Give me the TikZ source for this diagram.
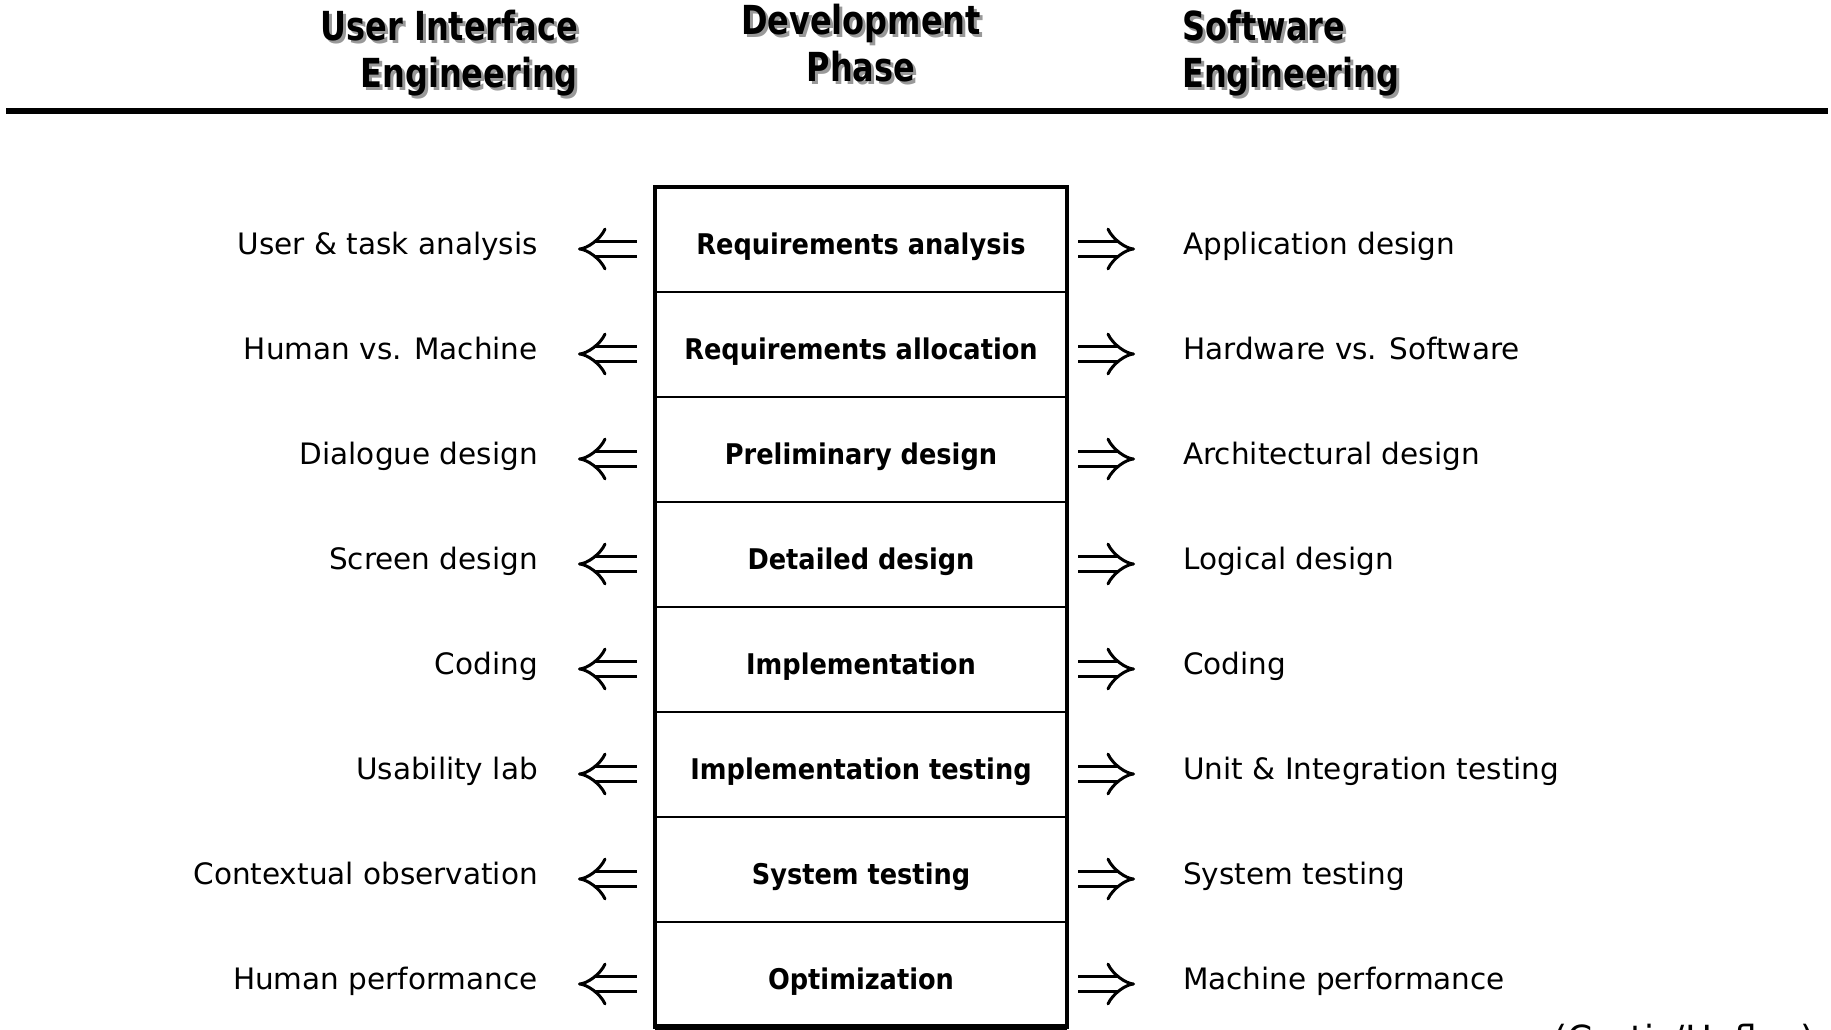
\documentclass[tikz,border=0pt]{standalone}
\usepackage{fontspec}
\setmainfont{DejaVu Sans}
\newfontfamily\headfont[FakeStretch=0.8]{DejaVu Sans}
\newfontfamily\phasefont[FakeStretch=0.9]{DejaVu Sans}
\usepackage{tikz}
\usetikzlibrary{arrows.meta,positioning}

% grey drop shadow behind a line of the headings
\newcommand{\shd}[1]{\makebox[0pt][l]{\kern3pt\raisebox{-3pt}{\textcolor{black!40}{#1}}}#1}

\begin{document}
\begin{tikzpicture}[x=1pt,y=-1pt,
    phase/.style={draw,line width=2pt,minimum width=412pt,minimum height=105pt,inner sep=0pt,outer sep=0pt,
      text height=30pt,text depth=1pt,font=\phasefont\bfseries\fontsize{28.5}{32}\selectfont},
    side/.style={inner sep=0pt,text height=30pt,text depth=1pt,font=\fontsize{29.5}{34}\selectfont},
    head/.style={inner sep=0pt,align=#1,font=\headfont\bfseries\fontsize{40}{47}\selectfont},
    toui/.style={double,double distance=12pt,line width=3pt,-{Implies[scale=0.85]},shorten <=18pt,shorten >=40pt},
    tose/.style={double,double distance=12pt,line width=3pt,-{Implies[scale=0.85]},shorten <=11pt,shorten >=48pt}]
      \useasboundingbox (0,0) rectangle (1831,1030);
      \clip (0,0) rectangle (1831,1030);

      % headings
      \node [head=right,anchor=north east] (hui) at (578,10) {\shd{User Interface}\\\shd{Engineering}};
      \node [head=center,anchor=north] (hdev) at (861,4) {\shd{Development}\\\shd{Phase}};
      \node [head=left,anchor=north west] (hse) at (1182,10) {\shd{Software}\\\shd{Engineering}};
      \draw [line width=6pt] (6,111) to (1828,111);

      % development phases
      \node [phase] (r1) at (861,239.5) {Requirements analysis};
      \node [phase,below=0pt of r1] (r2) {Requirements allocation};
      \node [phase,below=0pt of r2] (r3) {Preliminary design};
      \node [phase,below=0pt of r3] (r4) {Detailed design};
      \node [phase,below=0pt of r4] (r5) {Implementation};
      \node [phase,below=0pt of r5] (r6) {Implementation testing};
      \node [phase,below=0pt of r6] (r7) {System testing};
      \node [phase,below=0pt of r7] (r8) {Optimization};
      \draw [line width=4pt] (r1.north west) rectangle (r8.south east);
      \draw [line width=6pt] (r8.south west) to (r8.south east);

      % user interface engineering
      \node [side,left=117pt of r1,anchor=east] (ui1) {User \& task analysis};
      \node [side,left=117pt of r2,anchor=east] (ui2) {Human vs. Machine};
      \node [side,left=117pt of r3,anchor=east] (ui3) {Dialogue design};
      \node [side,left=117pt of r4,anchor=east] (ui4) {Screen design};
      \node [side,left=117pt of r5,anchor=east] (ui5) {Coding};
      \node [side,left=117pt of r6,anchor=east] (ui6) {Usability lab};
      \node [side,left=117pt of r7,anchor=east] (ui7) {Contextual observation};
      \node [side,left=117pt of r8,anchor=east] (ui8) {Human performance};

      % software engineering
      \node [side,right=116pt of r1,anchor=west] (se1) {Application design};
      \node [side,right=116pt of r2,anchor=west] (se2) {Hardware vs. Software};
      \node [side,right=116pt of r3,anchor=west] (se3) {Architectural design};
      \node [side,right=116pt of r4,anchor=west] (se4) {Logical design};
      \node [side,right=116pt of r5,anchor=west] (se5) {Coding};
      \node [side,right=116pt of r6,anchor=west] (se6) {Unit \& Integration testing};
      \node [side,right=116pt of r7,anchor=west] (se7) {System testing};
      \node [side,right=116pt of r8,anchor=west] (se8) {Machine performance};

      % arrows
      \foreach \i in {1,...,8} {
        \draw [toui] ([yshift=-9.5pt]r\i.west) to ([yshift=-9.5pt]r\i.west -| ui\i.east);
        \draw [tose] ([yshift=-9.5pt]r\i.east) to ([yshift=-9.5pt]r\i.east -| se\i.west);
      }

      \node [anchor=base west,inner sep=0pt,font=\fontsize{36}{40}\selectfont] (src) at (1553,1051) {(Curtis/Hefley)};
\end{tikzpicture}
\end{document}
